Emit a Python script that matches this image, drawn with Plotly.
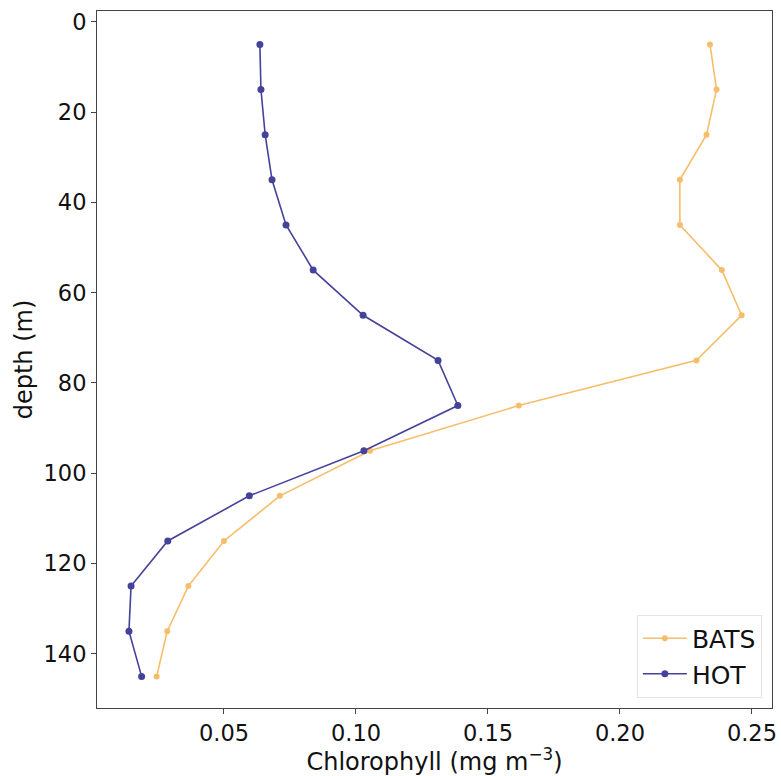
import plotly.graph_objects as go

depth = [5, 15, 25, 35, 45, 55, 65, 75, 85, 95, 105, 115, 125, 135, 145]
bats_chl = [0.2341, 0.2366, 0.2328, 0.2227, 0.2227, 0.2386, 0.2461, 0.2290,
            0.1617, 0.1053, 0.0712, 0.0500, 0.0365, 0.0285, 0.0245]
hot_chl = [0.0636, 0.0640, 0.0656, 0.0682, 0.0735, 0.0838, 0.1027, 0.1311,
           0.1386, 0.1030, 0.0596, 0.0287, 0.0148, 0.0140, 0.0188]

x_ticks = [0.05, 0.10, 0.15, 0.20, 0.25]
y_ticks = [0, 20, 40, 60, 80, 100, 120, 140]

FONT = "DejaVu Sans"

fig = go.Figure()
fig.add_trace(go.Scatter(
    x=bats_chl, y=depth, mode="lines+markers", name="BATS",
    line=dict(color="#f6bd6a", width=1.6),
    marker=dict(color="#f6bd6a", size=6),
))
fig.add_trace(go.Scatter(
    x=hot_chl, y=depth, mode="lines+markers", name="HOT",
    line=dict(color="#45429a", width=1.6),
    marker=dict(color="#45429a", size=7),
))

axis_common = dict(
    showgrid=False, zeroline=False, showline=True, mirror=True,
    linecolor="#444444", linewidth=1, ticks="outside", ticklen=5,
    tickcolor="#444444", tickfont=dict(family=FONT, size=22.5, color="#111111"),
)

fig.update_xaxes(
    range=[0.0019, 0.2576], tickvals=x_ticks,
    ticktext=[f"{v:.2f}" for v in x_ticks],
    title=dict(text="Chlorophyll (mg m<sup>−3</sup>)",
               font=dict(family=FONT, size=24, color="#111111"), standoff=2),
    **axis_common,
)
fig.update_yaxes(
    range=[152, -2.4], tickvals=y_ticks,
    title=dict(text="depth (m)", font=dict(family=FONT, size=24, color="#111111"),
               standoff=4),
    **axis_common,
)

fig.update_layout(
    width=781, height=776,
    margin=dict(l=97, r=9, t=11, b=68, autoexpand=False),
    paper_bgcolor="white", plot_bgcolor="white",
    font=dict(family=FONT, size=22, color="#111111"),
    legend=dict(
        x=0.985, y=0.015, xanchor="right", yanchor="bottom",
        bgcolor="rgba(255,255,255,0.8)", bordercolor="#e4e4e4", borderwidth=1,
        font=dict(family=FONT, size=25, color="#111111"),
        itemwidth=44, tracegroupgap=4,
    ),
    showlegend=True,
)

fig.write_html("out.html")
